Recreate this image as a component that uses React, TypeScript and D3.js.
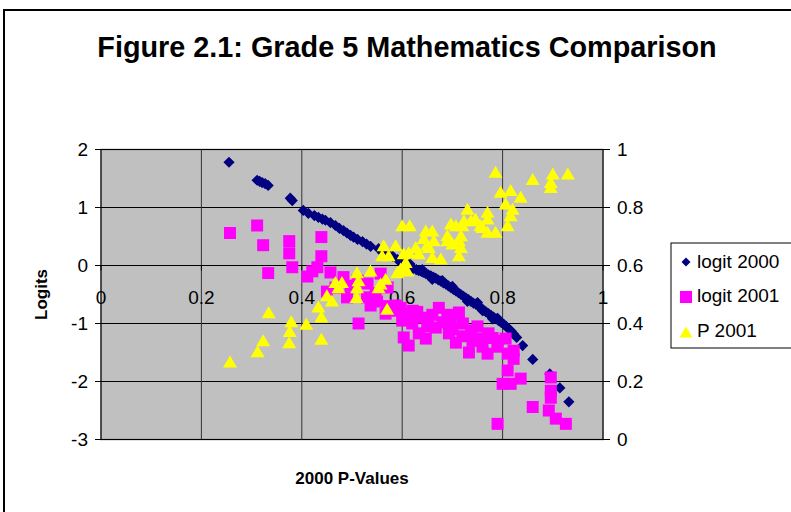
import * as d3 from "d3";
import { useEffect, useRef } from "react";

// logit 2000: [2000 p-value, logit]
const logit2000: [number, number][] = [
  [0.255, 1.78], [0.311, 1.47], [0.316, 1.45], [0.321, 1.43], [0.327, 1.41], [0.333, 1.38],
  [0.377, 1.16], [0.381, 1.12], [0.403, 0.95], [0.413, 0.9], [0.425, 0.86], [0.433, 0.83],
  [0.441, 0.8], [0.447, 0.78], [0.457, 0.74], [0.467, 0.69], [0.475, 0.64], [0.483, 0.6],
  [0.49, 0.56], [0.497, 0.52], [0.503, 0.49], [0.511, 0.45], [0.521, 0.41], [0.529, 0.37],
  [0.537, 0.33], [0.553, 0.29], [0.561, 0.22], [0.573, 0.19], [0.581, 0.16], [0.591, 0.1],
  [0.597, 0.06], [0.605, 0.03], [0.61, 0.0], [0.612, -0.02], [0.618, -0.04], [0.622, -0.05],
  [0.628, -0.07], [0.633, -0.09], [0.638, -0.1], [0.642, -0.12], [0.647, -0.14], [0.652, -0.16],
  [0.657, -0.18], [0.662, -0.2], [0.667, -0.22], [0.672, -0.25], [0.677, -0.27], [0.682, -0.3],
  [0.687, -0.32], [0.692, -0.35], [0.697, -0.38], [0.702, -0.41], [0.707, -0.44], [0.712, -0.47],
  [0.717, -0.5], [0.722, -0.53], [0.727, -0.56], [0.732, -0.59], [0.737, -0.62], [0.742, -0.65],
  [0.747, -0.67], [0.752, -0.7], [0.757, -0.73], [0.762, -0.77], [0.767, -0.8], [0.772, -0.83],
  [0.777, -0.86], [0.782, -0.89], [0.787, -0.92], [0.792, -0.95], [0.797, -0.98], [0.802, -1.01],
  [0.807, -1.05], [0.812, -1.09], [0.817, -1.13], [0.822, -1.18], [0.828, -1.24],
  [0.615, 0.03], [0.64, -0.07], [0.66, -0.24], [0.7, -0.36], [0.73, -0.62], [0.75, -0.64],
  [0.78, -0.92], [0.79, -0.91], [0.76, -0.78], [0.68, -0.26],
  [0.84, -1.38], [0.86, -1.62], [0.894, -1.87], [0.914, -2.11], [0.932, -2.35],
];

// logit 2001: [2000 p-value, logit]
const logit2001: [number, number][] = [
  [0.257, 0.56], [0.311, 0.69], [0.323, 0.35], [0.333, -0.13], [0.375, 0.42], [0.375, 0.21],
  [0.381, -0.03], [0.439, 0.49], [0.439, 0.16], [0.431, -0.03], [0.411, -0.19], [0.421, -0.1],
  [0.457, -0.12], [0.483, -0.2], [0.511, -0.26], [0.531, -0.31], [0.557, -0.14], [0.571, -0.38],
  [0.547, -0.48], [0.497, -0.35], [0.467, -0.38], [0.513, -1.0], [0.537, -0.69], [0.567, -0.83],
  [0.587, -0.69], [0.601, -0.83], [0.603, -1.24], [0.613, -1.38], [0.597, -0.73], [0.621, -0.78],
  [0.633, -1.17], [0.647, -1.26], [0.651, -0.95], [0.667, -1.07], [0.673, -0.73], [0.693, -1.17],
  [0.697, -0.95], [0.707, -1.33], [0.713, -0.81], [0.721, -1.0], [0.733, -1.5], [0.737, -1.12],
  [0.757, -1.26], [0.77, -1.52], [0.772, -1.17], [0.79, -1.3], [0.806, -1.26], [0.81, -1.52],
  [0.822, -1.61], [0.822, -1.47], [0.81, -1.81], [0.8, -2.04], [0.816, -2.04], [0.836, -1.95],
  [0.86, -2.44], [0.896, -1.93], [0.896, -2.16], [0.896, -2.28], [0.892, -2.5], [0.906, -2.64],
  [0.926, -2.73], [0.79, -2.73],
  [0.45, -0.45], [0.49, -0.55], [0.53, -0.55], [0.55, -0.62], [0.57, -0.7], [0.59, -0.78],
  [0.61, -0.88], [0.63, -0.8], [0.64, -0.9], [0.66, -0.85], [0.68, -0.98], [0.69, -0.85],
  [0.7, -1.1], [0.72, -1.22], [0.74, -1.3], [0.75, -1.05], [0.76, -1.4], [0.78, -1.25],
  [0.79, -1.4], [0.62, -1.0], [0.65, -1.05], [0.6, -0.95],
];

// P 2001: [2000 p-value, 2001 p-value] (right axis)
const p2001: [number, number][] = [
  [0.257, 0.269], [0.312, 0.304], [0.323, 0.342], [0.334, 0.439], [0.379, 0.408], [0.376, 0.374],
  [0.375, 0.335], [0.409, 0.399], [0.439, 0.347], [0.439, 0.424], [0.433, 0.459], [0.45, 0.497],
  [0.46, 0.479], [0.473, 0.525], [0.48, 0.543], [0.467, 0.543], [0.509, 0.491], [0.51, 0.525],
  [0.513, 0.549], [0.51, 0.577], [0.537, 0.583], [0.557, 0.538], [0.57, 0.451], [0.553, 0.525],
  [0.567, 0.554], [0.563, 0.67], [0.56, 0.635], [0.573, 0.635], [0.587, 0.67], [0.59, 0.577],
  [0.597, 0.59], [0.607, 0.612], [0.603, 0.642], [0.613, 0.646], [0.61, 0.583], [0.6, 0.739],
  [0.615, 0.739], [0.633, 0.642], [0.627, 0.664], [0.643, 0.695], [0.647, 0.721], [0.66, 0.721],
  [0.65, 0.672], [0.663, 0.687], [0.653, 0.664], [0.66, 0.629], [0.677, 0.624], [0.69, 0.704],
  [0.69, 0.687], [0.697, 0.745], [0.707, 0.739], [0.7, 0.676], [0.713, 0.687], [0.717, 0.664],
  [0.713, 0.635], [0.72, 0.739], [0.723, 0.756], [0.737, 0.756], [0.73, 0.796], [0.746, 0.762],
  [0.756, 0.739], [0.76, 0.733], [0.77, 0.785], [0.77, 0.762], [0.77, 0.716], [0.786, 0.716],
  [0.786, 0.923], [0.796, 0.854], [0.816, 0.86], [0.836, 0.837], [0.806, 0.814], [0.82, 0.796],
  [0.816, 0.773], [0.81, 0.739], [0.86, 0.898], [0.896, 0.888], [0.896, 0.871], [0.9, 0.917],
  [0.93, 0.917], [0.717, 0.704], [0.603, 0.595],
];

const xTicks = [0, 0.2, 0.4, 0.6, 0.8, 1];
const leftTicks = [2, 1, 0, -1, -2, -3];
const rightTicks = [0, 0.2, 0.4, 0.6, 0.8, 1];
const legendItems = ["logit 2000", "logit 2001", "P 2001"];

const W = 791;
const H = 512;
const FONT = "'Liberation Sans', Arial, sans-serif";

export default function App() {
  const ref = useRef<SVGSVGElement>(null);

  useEffect(() => {
    if (!ref.current) return;
    const svg = d3.select(ref.current);
    svg.selectAll("*").remove();

    const plot = { left: 101, right: 603, top: 149.5, bottom: 439.5 };
    const x = d3.scaleLinear().domain([0, 1]).range([plot.left, plot.right]);
    const yL = d3.scaleLinear().domain([-3, 2]).range([plot.bottom, plot.top]);
    const yR = d3.scaleLinear().domain([0, 1]).range([plot.bottom, plot.top]);

    svg.append("rect").attr("width", W).attr("height", H).attr("fill", "#fff");

    // outer chart frame
    svg
      .append("path")
      .attr("d", `M4,${H + 5}V10H${W + 5}`)
      .attr("fill", "none")
      .attr("stroke", "#000")
      .attr("stroke-width", 2);

    // title
    svg
      .append("text")
      .attr("x", 407)
      .attr("y", 57)
      .attr("text-anchor", "middle")
      .attr("font-family", FONT)
      .attr("font-weight", "bold")
      .attr("font-size", 28.8)
      .text("Figure 2.1: Grade 5 Mathematics Comparison");

    // plot area
    svg
      .append("rect")
      .attr("x", plot.left)
      .attr("y", plot.top)
      .attr("width", plot.right - plot.left)
      .attr("height", plot.bottom - plot.top)
      .attr("fill", "#C0C0C0")
      .attr("stroke", "#808080")
      .attr("stroke-width", 1.5);

    const grid = svg.append("g").attr("stroke", "#000").attr("stroke-width", 1);
    grid
      .selectAll("line.h")
      .data(leftTicks.filter((t) => t !== 0))
      .join("line")
      .attr("x1", plot.left)
      .attr("x2", plot.right)
      .attr("y1", (d) => yL(d))
      .attr("y2", (d) => yL(d));
    grid
      .selectAll("line.v")
      .data(xTicks.filter((t) => t > 0 && t < 1))
      .join("line")
      .attr("x1", (d) => x(d))
      .attr("x2", (d) => x(d))
      .attr("y1", plot.top)
      .attr("y2", plot.bottom)
      .attr("stroke", "#333");

    // axes
    const axisG = svg.append("g").attr("stroke", "#000").attr("stroke-width", 1);
    axisG.append("line").attr("x1", plot.left).attr("x2", plot.right).attr("y1", yL(0)).attr("y2", yL(0));
    axisG.append("line").attr("x1", plot.left).attr("x2", plot.left).attr("y1", plot.top).attr("y2", plot.bottom);
    axisG.append("line").attr("x1", plot.right).attr("x2", plot.right).attr("y1", plot.top).attr("y2", plot.bottom);
    axisG
      .selectAll("line.lt")
      .data(leftTicks)
      .join("line")
      .attr("x1", plot.left - 6)
      .attr("x2", plot.left)
      .attr("y1", (d) => yL(d))
      .attr("y2", (d) => yL(d));
    axisG
      .selectAll("line.rt")
      .data(rightTicks)
      .join("line")
      .attr("x1", plot.right)
      .attr("x2", plot.right + 7)
      .attr("y1", (d) => yR(d))
      .attr("y2", (d) => yR(d));
    axisG
      .selectAll("line.xt")
      .data(xTicks)
      .join("line")
      .attr("x1", (d) => x(d))
      .attr("x2", (d) => x(d))
      .attr("y1", yL(0))
      .attr("y2", yL(0) + 5);

    const labels = svg.append("g").attr("font-family", FONT).attr("font-size", 19).attr("fill", "#000");
    labels
      .selectAll("text.l")
      .data(leftTicks)
      .join("text")
      .attr("x", plot.left - 13)
      .attr("y", (d) => yL(d))
      .attr("dy", "0.36em")
      .attr("text-anchor", "end")
      .text((d) => String(d));
    labels
      .selectAll("text.r")
      .data(rightTicks)
      .join("text")
      .attr("x", plot.right + 14)
      .attr("y", (d) => yR(d))
      .attr("dy", "0.36em")
      .text((d) => String(d));
    labels
      .selectAll("text.x")
      .data(xTicks)
      .join("text")
      .attr("x", (d) => x(d))
      .attr("y", yL(0) + 38)
      .attr("text-anchor", "middle")
      .text((d) => String(d));

    // axis titles
    svg
      .append("text")
      .attr("transform", `translate(47,${(plot.top + plot.bottom) / 2}) rotate(-90)`)
      .attr("text-anchor", "middle")
      .attr("font-family", FONT)
      .attr("font-weight", "bold")
      .attr("font-size", 17)
      .text("Logits");
    svg
      .append("text")
      .attr("x", (plot.left + plot.right) / 2)
      .attr("y", 484)
      .attr("text-anchor", "middle")
      .attr("font-family", FONT)
      .attr("font-weight", "bold")
      .attr("font-size", 17)
      .text("2000 P-Values");

    const diamond = "M0,-5.6L5.6,0L0,5.6L-5.6,0Z";
    const square = "M-6,-6H6V6H-6Z";
    const triangle = "M0,-6L7,6L-7,6Z";

    const marks = svg.append("g");
    marks
      .selectAll("path.s0")
      .data(logit2000)
      .join("path")
      .attr("d", diamond)
      .attr("fill", "#000080")
      .attr("transform", (d) => `translate(${x(d[0])},${yL(d[1])})`);
    marks
      .selectAll("path.s1")
      .data(logit2001)
      .join("path")
      .attr("d", square)
      .attr("fill", "#FF00FF")
      .attr("transform", (d) => `translate(${x(d[0])},${yL(d[1])})`);
    marks
      .selectAll("path.s2")
      .data(p2001)
      .join("path")
      .attr("d", triangle)
      .attr("fill", "#FFFF00")
      .attr("transform", (d) => `translate(${x(d[0])},${yR(d[1])})`);

    // legend
    const lg = svg.append("g").attr("transform", "translate(671,243)");
    lg.append("rect")
      .attr("width", 140)
      .attr("height", 105)
      .attr("fill", "#fff")
      .attr("stroke", "#000")
      .attr("stroke-width", 1);
    const shapes = [
      { d: "M0,-4.5L4.5,0L0,4.5L-4.5,0Z", fill: "#000080" },
      { d: square, fill: "#FF00FF" },
      { d: "M0,-5.5L6.5,5.5L-6.5,5.5Z", fill: "#FFFF00" },
    ];
    const rowY = [19, 53, 88];
    legendItems.forEach((name, i) => {
      lg.append("path")
        .attr("d", shapes[i].d)
        .attr("fill", shapes[i].fill)
        .attr("transform", `translate(15,${rowY[i] + (i === 0 ? 0 : 1)})`);
      lg.append("text")
        .attr("x", 26)
        .attr("y", rowY[i] - 1)
        .attr("dy", "0.36em")
        .attr("font-family", FONT)
        .attr("font-size", 19)
        .text(name);
    });
  }, []);

  return (
    <svg
      ref={ref}
      width={W}
      height={H}
      style={{ position: "absolute", left: 0, top: 0, display: "block" }}
    />
  );
}
